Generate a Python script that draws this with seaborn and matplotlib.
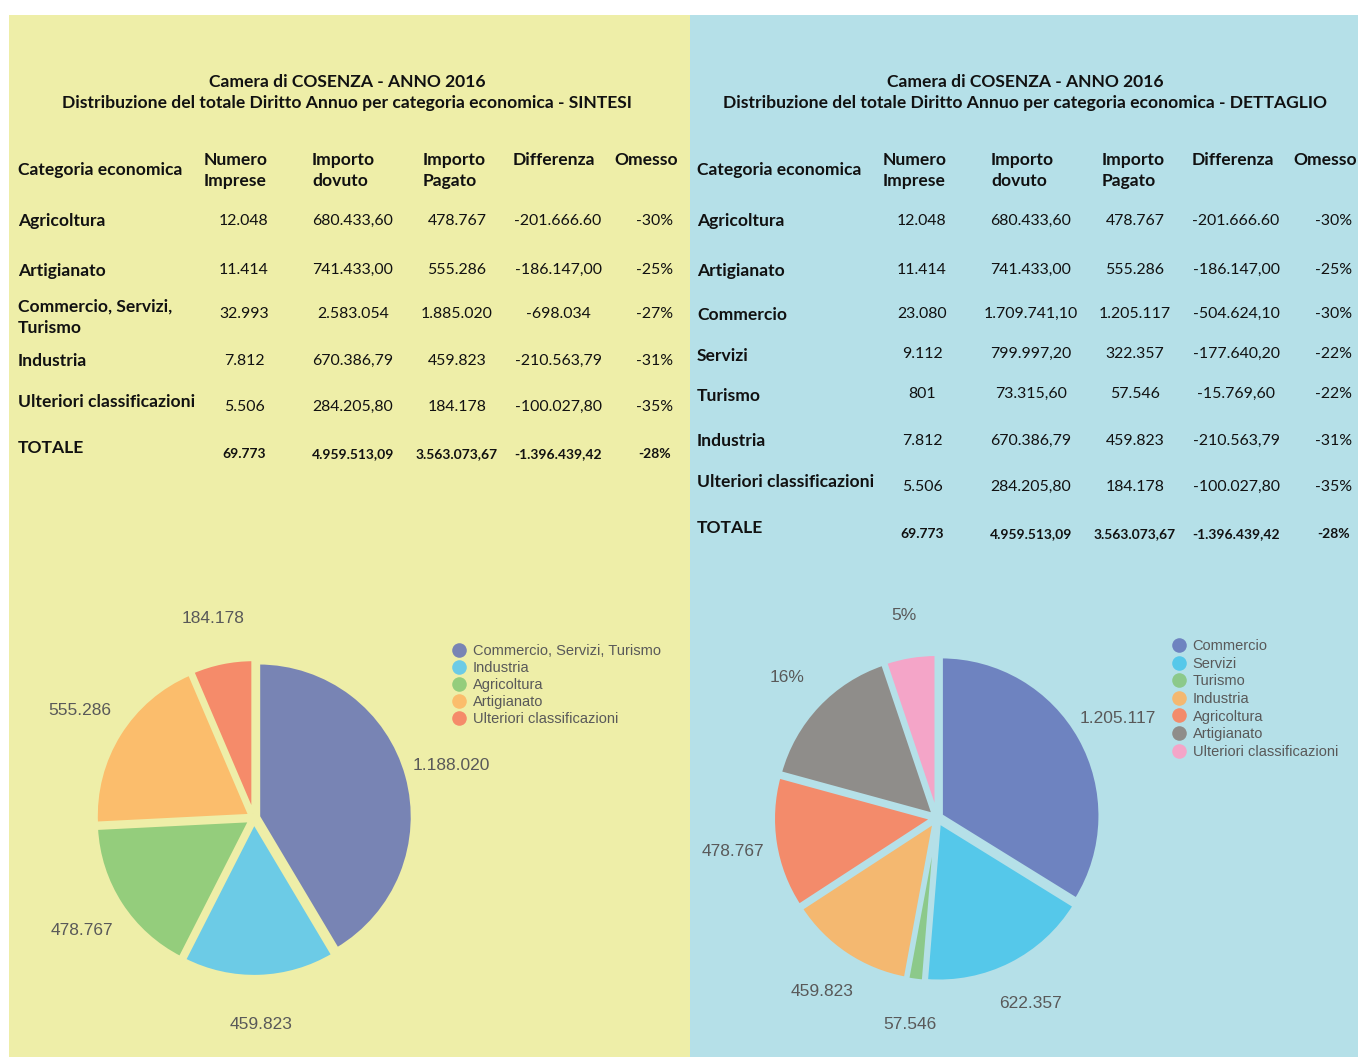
import matplotlib.pyplot as plt
import seaborn as sns
from matplotlib.lines import Line2D
from matplotlib.patches import Rectangle

W, H = 1358, 1057

# ---- SINTESI table ----
sint_categories = ['Agricoltura', 'Artigianato', 'Commercio, Servizi,\nTurismo', 'Industria',
                   'Ulteriori classificazioni']
sint_imprese = ['12.048', '11.414', '32.993', '7.812', '5.506']
sint_dovuto = ['680.433,60', '741.433,00', '2.583.054', '670.386,79', '284.205,80']
sint_pagato = ['478.767', '555.286', '1.885.020', '459.823', '184.178']
sint_diff = ['-201.666.60', '-186.147,00', '-698.034', '-210.563,79', '-100.027,80']
sint_omesso = ['-30%', '-25%', '-27%', '-31%', '-35%']

# ---- DETTAGLIO table ----
dett_categories = ['Agricoltura', 'Artigianato', 'Commercio', 'Servizi', 'Turismo', 'Industria',
                   'Ulteriori classificazioni']
dett_imprese = ['12.048', '11.414', '23.080', '9.112', '801', '7.812', '5.506']
dett_dovuto = ['680.433,60', '741.433,00', '1.709.741,10', '799.997,20', '73.315,60', '670.386,79', '284.205,80']
dett_pagato = ['478.767', '555.286', '1.205.117', '322.357', '57.546', '459.823', '184.178']
dett_diff = ['-201.666.60', '-186.147,00', '-504.624,10', '-177.640,20', '-15.769,60', '-210.563,79',
             '-100.027,80']
dett_omesso = ['-30%', '-25%', '-30%', '-22%', '-22%', '-31%', '-35%']

totale = ['69.773', '4.959.513,09', '3.563.073,67', '-1.396.439,42', '-28%']
headers = ['Numero\nImprese', 'Importo\ndovuto', 'Importo\nPagato', 'Differenza', 'Omesso']

# ---- pies ----
sint_pie_labels = ['Commercio, Servizi, Turismo', 'Industria', 'Agricoltura', 'Artigianato',
                   'Ulteriori classificazioni']
sint_pie_values = [1188020, 459823, 478767, 555286, 184178]
sint_colors = ['#7884b4', '#6ccbe6', '#94cd7c', '#fbbd6c', '#f58b6a']

dett_pie_labels = ['Commercio', 'Servizi', 'Turismo', 'Industria', 'Agricoltura', 'Artigianato',
                   'Ulteriori classificazioni']
dett_pie_values = [1205117, 622357, 57546, 459823, 478767, 555286, 184178]
dett_show_pct = [False, False, False, False, False, True, True]
dett_colors = ['#6e83c0', '#55c8ea', '#8cc98a', '#f4b870', '#f38b6b', '#8f8d8a', '#f4a5c8']

BG_LEFT = '#eeeea8'
BG_RIGHT = '#b5e0e8'
TXT = '#111111'
GREY = '#595959'
BOLD = 12.6

sns.set_theme(style='white')
plt.rcParams['font.family'] = ['Lato', 'DejaVu Sans']

fig = plt.figure(figsize=(W / 100, H / 100), dpi=100, facecolor='white')
fig.patches.append(Rectangle((9 / W, 0), 681 / W, 1 - 15 / H, transform=fig.transFigure,
                             facecolor=BG_LEFT, edgecolor='none', zorder=-10))
fig.patches.append(Rectangle((690 / W, 0), 668 / W, 1 - 15 / H, transform=fig.transFigure,
                             facecolor=BG_RIGHT, edgecolor='none', zorder=-10))


def put(x, y, s, **kw):
    fig.text(x / W, 1 - (y + 2) / H, s, color=TXT, **kw)


def fmt(v):
    return f'{v:,}'.replace(',', '.')


def draw_table(title_x, cat_x, head_x, val_x, cats, cols, label_y, value_y, tot_y, tot_vy, suffix):
    put(title_x, 80, 'Camera di COSENZA - ANNO 2016', ha='center', va='center',
        fontsize=BOLD, fontweight='bold')
    put(title_x, 101, 'Distribuzione del totale Diritto Annuo per categoria economica - ' + suffix,
        ha='center', va='center', fontsize=BOLD, fontweight='bold')
    put(cat_x, 168, 'Categoria economica', ha='left', va='center', fontsize=BOLD, fontweight='bold')
    for hx, h in zip(head_x, headers):
        yy = 168.5 if '\n' in h else 158
        put(hx, yy, h, ha='left', va='center', fontsize=BOLD, fontweight='bold', linespacing=1.45)
    for i, c in enumerate(cats):
        put(cat_x, label_y[i], c, ha='left', va='center', fontsize=BOLD, fontweight='bold',
            linespacing=1.45)
        for vx, col in zip(val_x, cols):
            put(vx, value_y[i], col[i], ha='center', va='center', fontsize=11.4)
    put(cat_x, tot_y, 'TOTALE', ha='left', va='center', fontsize=BOLD, fontweight='bold')
    for vx, t in zip(val_x, totale):
        put(vx, tot_vy, t, ha='center', va='center', fontsize=10, fontweight='bold')


draw_table(347, 18, [204, 312, 423, 513, 614], [244, 353, 457, 558, 655], sint_categories,
           [sint_imprese, sint_dovuto, sint_pagato, sint_diff, sint_omesso],
           [219, 269, 315, 359, 400], [219, 268, 312, 359, 405], 446, 452, 'SINTESI')
draw_table(1025, 697, [883, 991, 1102, 1192, 1293], [922, 1031, 1135, 1236, 1334], dett_categories,
           [dett_imprese, dett_dovuto, dett_pagato, dett_diff, dett_omesso],
           [219, 269, 313, 354, 394, 439, 480], [219, 268, 312, 352, 392, 439, 485], 526, 532,
           'DETTAGLIO')


def draw_pie(cx, cy, r, values, labels, colors, bg, ldist):
    L = 1.6
    S = 2 * L * r
    ax = fig.add_axes([(cx - S / 2) / W, (H - cy - S / 2) / H, S / W, S / H])
    ax.pie(values, labels=labels, colors=colors, startangle=90, counterclock=False,
           explode=[0.03] * len(values), labeldistance=ldist,
           wedgeprops=dict(edgecolor=bg, linewidth=2.5),
           textprops=dict(ha='center', va='center_baseline', fontsize=12.5, color=GREY,
                          family=['Liberation Sans']))
    ax.set_xlim(-L, L)
    ax.set_ylim(-L, L)
    ax.set_aspect('equal')
    ax.axis('off')
    ax.patch.set_alpha(0)


def draw_legend(x, y, labels, colors, spacing):
    handles = [Line2D([], [], marker='o', linestyle='none', markersize=10.5, markerfacecolor=c,
                      markeredgecolor='none') for c in colors]
    fig.legend(handles, labels, loc='upper left', bbox_to_anchor=(x / W, 1 - y / H),
               frameon=False, handlelength=0.8, handletextpad=0.55, labelspacing=spacing,
               borderaxespad=0, borderpad=0,
               prop=dict(family='Liberation Sans', size=10.5), labelcolor=GREY)


draw_pie(254, 818, 154, sint_pie_values, [fmt(v) for v in sint_pie_values],
         sns.color_palette(sint_colors), BG_LEFT, 1.30)
draw_legend(453, 644, sint_pie_labels, sint_colors, 0.21)

tot_dett = sum(dett_pie_values)
dett_text = [f'{round(v / tot_dett * 100)}%' if p else fmt(v)
             for v, p in zip(dett_pie_values, dett_show_pct)]
draw_pie(937, 818, 159, dett_pie_values, dett_text, sns.color_palette(dett_colors), BG_RIGHT, 1.27)
draw_legend(1173, 639, dett_pie_labels, dett_colors, 0.25)

fig.savefig('out.png', dpi=100, facecolor='white')
